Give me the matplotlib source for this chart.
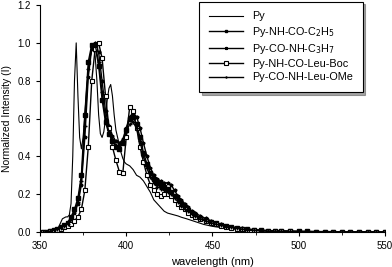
import matplotlib
matplotlib.use("Agg")
import matplotlib.pyplot as plt
from matplotlib.ticker import MultipleLocator

plt.rcParams['font.family'] = ['Liberation Sans', 'DejaVu Sans']

# Data
wl_py = [352, 355, 357, 359, 360, 361, 362, 363, 364, 365, 366, 367, 368, 369, 370,
         371, 372, 373, 374, 375, 376, 377, 378, 379, 380, 381, 382, 383, 384, 385,
         386, 387, 388, 389, 390, 391, 392, 393, 394, 395, 396, 397, 398, 399, 400,
         402, 404, 406, 408, 410, 412, 414, 416, 418, 420, 422, 424, 426, 428, 430,
         432, 435, 440, 445, 450, 460, 470, 480, 500, 525, 550]
py = [0.0, 0.0, 0.003, 0.01, 0.015, 0.03, 0.05, 0.07, 0.075, 0.08, 0.08, 0.09, 0.15, 0.4, 0.8,
      1.0, 0.72, 0.5, 0.44, 0.5, 0.62, 0.75, 0.85, 0.92, 0.96, 0.97, 0.93, 0.8, 0.62, 0.52,
      0.5, 0.53, 0.6, 0.7, 0.76, 0.78, 0.72, 0.62, 0.54, 0.5, 0.46, 0.42, 0.39, 0.37, 0.36,
      0.35, 0.33, 0.3, 0.29, 0.27, 0.24, 0.21, 0.17, 0.15, 0.13, 0.11, 0.1, 0.095, 0.09, 0.085,
      0.078, 0.07, 0.055, 0.04, 0.03, 0.017, 0.01, 0.006, 0.003, 0.001, 0.0]

wl = [352, 354, 356, 358, 360, 362, 364, 366, 368, 370, 372, 374, 376, 378, 380,
      382, 384, 386, 388, 390, 392, 394, 396, 398, 400, 402, 404, 406, 408, 410,
      412, 414, 416, 418, 420, 422, 424, 426, 428, 430, 432, 434, 436, 438, 440,
      443, 446, 449, 452, 455, 458, 461, 464, 467, 470, 474, 478, 482, 486, 490,
      495, 500, 505, 510, 515, 520, 525, 530, 535, 540, 545, 550]
nh_co_c2h5 = [0.0, 0.002, 0.005, 0.01, 0.015, 0.025, 0.035, 0.05, 0.08, 0.12, 0.18, 0.3, 0.62, 0.9, 0.99,
              0.98, 0.88, 0.7, 0.58, 0.52, 0.48, 0.45, 0.44, 0.47, 0.54, 0.6, 0.61, 0.57, 0.5, 0.42,
              0.36, 0.31, 0.28, 0.26, 0.25, 0.24, 0.23, 0.21, 0.19, 0.17, 0.15, 0.13, 0.115, 0.1, 0.09,
              0.075, 0.064, 0.054, 0.046, 0.038, 0.032, 0.026, 0.022, 0.018, 0.015, 0.012, 0.009, 0.007, 0.006, 0.005,
              0.004, 0.003, 0.003, 0.002, 0.002, 0.002, 0.001, 0.001, 0.001, 0.001, 0.0, 0.0]
co_nh_c3h7 = [0.0, 0.002, 0.005, 0.01, 0.015, 0.02, 0.03, 0.045, 0.07, 0.1, 0.15, 0.25, 0.5, 0.82, 0.97,
              1.0, 0.95, 0.8, 0.64, 0.56, 0.51, 0.48, 0.47, 0.49, 0.55, 0.61, 0.63, 0.61, 0.55, 0.47,
              0.4, 0.34, 0.3, 0.28, 0.27, 0.26, 0.26, 0.25, 0.22, 0.19, 0.17, 0.15, 0.13, 0.11, 0.1,
              0.085, 0.072, 0.06, 0.05, 0.041, 0.034, 0.028, 0.023, 0.019, 0.016, 0.012, 0.01, 0.008, 0.006, 0.005,
              0.004, 0.003, 0.003, 0.002, 0.002, 0.002, 0.001, 0.001, 0.001, 0.001, 0.0, 0.0]
nh_co_leu_boc = [0.0, 0.0, 0.003, 0.008, 0.012, 0.018, 0.025, 0.033, 0.045, 0.06, 0.08, 0.12, 0.22, 0.45, 0.8,
                 0.97, 1.0, 0.92, 0.72, 0.55, 0.45, 0.38, 0.32, 0.31, 0.5, 0.66, 0.64, 0.55, 0.45, 0.37,
                 0.3, 0.25, 0.22, 0.2, 0.19, 0.2, 0.2, 0.19, 0.17, 0.15, 0.13, 0.12, 0.1, 0.09, 0.08,
                 0.068, 0.058, 0.048, 0.04, 0.033, 0.027, 0.022, 0.018, 0.015, 0.012, 0.009, 0.007, 0.006, 0.005, 0.004,
                 0.003, 0.002, 0.002, 0.002, 0.001, 0.001, 0.001, 0.001, 0.0, 0.0, 0.0, 0.0]
co_nh_leu_ome = [0.0, 0.002, 0.005, 0.01, 0.015, 0.022, 0.032, 0.045, 0.07, 0.11, 0.16, 0.27, 0.56, 0.86, 0.98,
                 0.99, 0.9, 0.74, 0.6, 0.53, 0.49, 0.46, 0.45, 0.48, 0.53, 0.57, 0.58, 0.55, 0.48, 0.4,
                 0.34, 0.29, 0.26, 0.24, 0.23, 0.22, 0.21, 0.2, 0.18, 0.16, 0.14, 0.12, 0.11, 0.095, 0.085,
                 0.071, 0.06, 0.05, 0.042, 0.035, 0.029, 0.024, 0.02, 0.016, 0.013, 0.01, 0.008, 0.006, 0.005, 0.004,
                 0.003, 0.003, 0.002, 0.002, 0.002, 0.001, 0.001, 0.001, 0.001, 0.0, 0.0, 0.0]

labels = ["Py", "Py-NH-CO-C$_2$H$_5$", "Py-CO-NH-C$_3$H$_7$",
          "Py-NH-CO-Leu-Boc", "Py-CO-NH-Leu-OMe"]

# Plot
fig = plt.figure(figsize=(3.92, 2.67), dpi=100)
ax = fig.add_axes([0.102, 0.131, 0.880, 0.850])

ax.plot(wl_py, py, color="black", lw=0.8, label=labels[0])
ax.plot(wl, nh_co_c2h5, color="black", lw=1.0, marker="s", ms=2.2, mfc="black", label=labels[1])
ax.plot(wl, co_nh_c3h7, color="black", lw=1.0, marker="*", ms=2.6, label=labels[2])
ax.plot(wl, nh_co_leu_boc, color="black", lw=1.0, marker="s", ms=3, mfc="white", mew=0.8, label=labels[3])
ax.plot(wl, co_nh_leu_ome, color="black", lw=1.0, marker="+", ms=2.6, label=labels[4])

ax.set_xlim(350, 550)
ax.set_ylim(0, 1.2)
ax.xaxis.set_major_locator(MultipleLocator(50))
ax.xaxis.set_minor_locator(MultipleLocator(25))
ax.yaxis.set_major_locator(MultipleLocator(0.2))
ax.yaxis.set_major_formatter(plt.FormatStrFormatter("%.1f"))
ax.spines["top"].set_visible(False)
ax.spines["right"].set_visible(False)
ax.tick_params(labelsize=7, length=3, width=0.8)
ax.tick_params(which="minor", length=2, width=0.6)
ax.set_xlabel("wavelength (nm)", fontsize=8)
ax.set_ylabel("Normalized Intensity (I)", fontsize=7.5)

leg = ax.legend(loc="upper right", bbox_to_anchor=(0.935, 1.015), fontsize=7.8, frameon=True,
                fancybox=False, shadow=True, edgecolor="black", handlelength=3.2,
                borderpad=0.9, labelspacing=0.3, markerscale=0.8, borderaxespad=0.0)
leg.get_frame().set_linewidth(0.8)

fig.savefig("out.png", dpi=100)
